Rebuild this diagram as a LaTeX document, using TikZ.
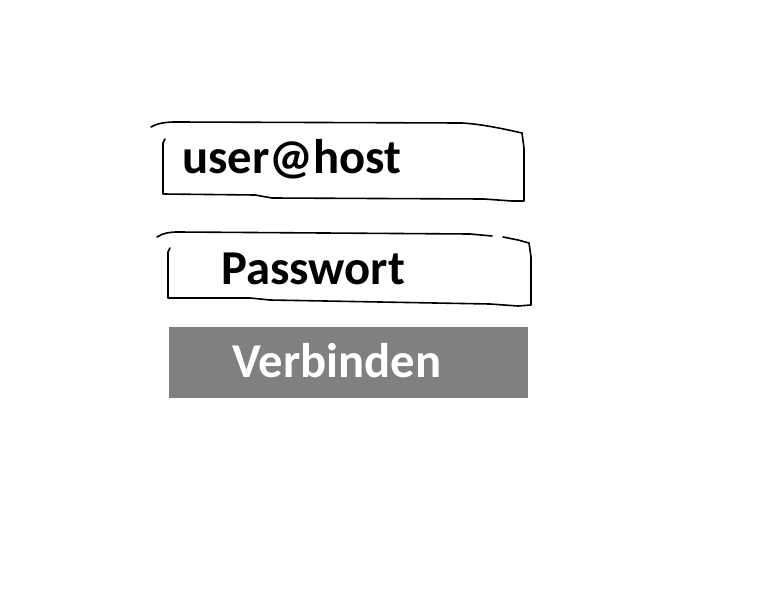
\documentclass[tikz,border=0pt]{standalone}
\usepackage{fontspec}
\setmainfont{Carlito}
\usepackage{tikz}
\tikzset{
  formtext/.style={anchor=base west,inner sep=0pt,font=\fontsize{36.5}{40}\selectfont\bfseries},
  sketchline/.style={line width=1.2pt,line join=round,line cap=round}
}

\begin{document}
\begin{tikzpicture}[x=0.75pt,y=0.75pt,yscale=-1,xscale=1]
%set diagram left start at 0, and has height of 614
\useasboundingbox (0,0) rectangle (768,614);

%Shape: Free Drawing [id:user field top]
\draw [sketchline] (151,127) .. controls (158,123) and (166,122) .. (176,122) -- (462,123) .. controls (480,124) and (500,128) .. (522,133) ;
%Shape: Free Drawing [id:user field right and bottom]
\draw [sketchline] (522,133) -- (524,148) -- (524,201) -- (512,201) -- (484,199) -- (272,198) -- (255,195) -- (163,194) -- (163,143) -- (165,139) ;

%Shape: Free Drawing [id:password field top]
\draw [sketchline] (157,237) .. controls (163,233) and (170,232) .. (178,232) -- (470,234) -- (492,236) ;
\draw [sketchline] (503,237) -- (518,240) -- (529,243) ;
%Shape: Free Drawing [id:password field right and bottom]
\draw [sketchline] (529,243) -- (531,257) -- (531,305) -- (518,306) -- (490,304) -- (270,300) -- (250,298) -- (168,298) -- (168,252) -- (170,248) ;

%Shape: Rectangle [id:connect button]
\fill [fill={rgb,255:red,128;green,128;blue,128}] (169,327) rectangle (528,398) ;

% Text Node
\node (user) [formtext] at (182,173) {user@host};
% Text Node
\node (password) [formtext] at (221,284) {Passwort};
% Text Node
\node (connect) [formtext,text=white] at (232,377) {Verbinden};
\end{tikzpicture}
\end{document}
